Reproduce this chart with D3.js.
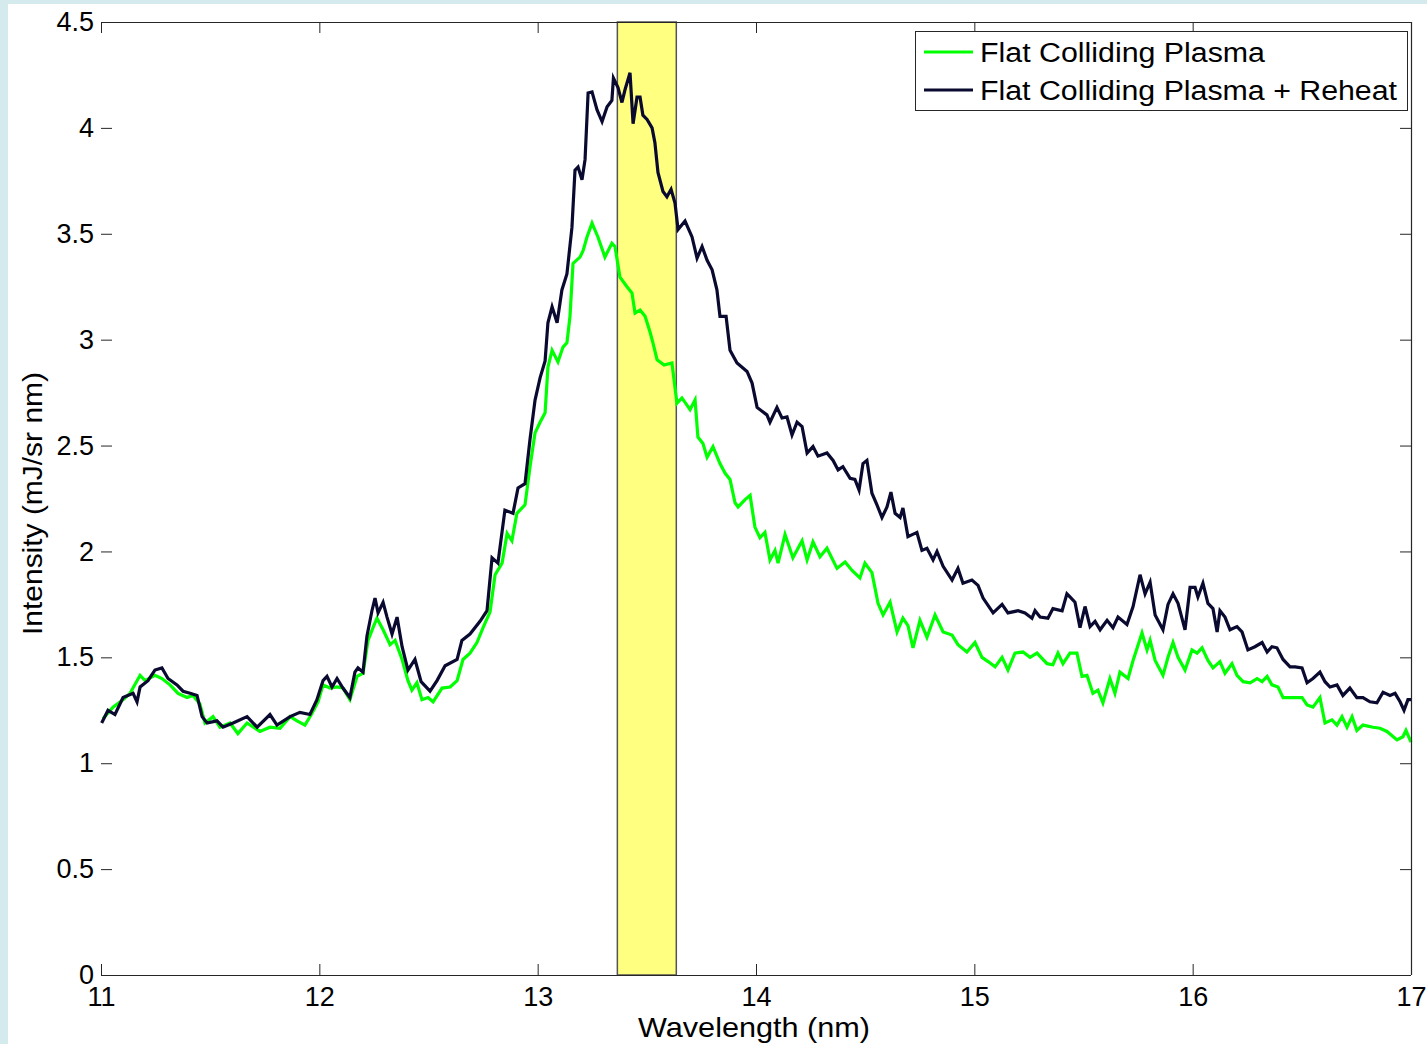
<!DOCTYPE html>
<html>
<head>
<meta charset="utf-8">
<script src="https://cdn.jsdelivr.net/npm/d3@7"></script>
<style>
  html, body { margin: 0; padding: 0; background: #ffffff; }
  svg { display: block; }
  text { font-family: "Liberation Sans", Arial, sans-serif; fill: #000; }
</style>
</head>
<body>
<script>
// ---------------- DATA ----------------
const xTicks = [11, 12, 13, 14, 15, 16, 17];
const yTicks = [0, 0.5, 1, 1.5, 2, 2.5, 3, 3.5, 4, 4.5];
const seriesNames = ["Flat Colliding Plasma", "Flat Colliding Plasma + Reheat"];
const band = [13.365, 13.635];

const flatWl = [11.009,11.055,11.101,11.133,11.179,11.202,11.247,11.279,11.316,11.353,11.394,11.421,11.453,11.476,11.513,11.545,11.591,11.627,11.669,11.728,11.774,11.820,11.866,11.898,11.934,11.966,11.994,12.017,12.049,12.081,12.108,12.140,12.173,12.200,12.223,12.246,12.264,12.292,12.324,12.347,12.379,12.406,12.424,12.447,12.470,12.498,12.521,12.562,12.599,12.631,12.658,12.690,12.722,12.750,12.782,12.805,12.837,12.860,12.882,12.905,12.942,12.965,12.988,13.011,13.034,13.047,13.066,13.093,13.116,13.134,13.148,13.162,13.194,13.208,13.226,13.249,13.276,13.308,13.340,13.354,13.377,13.409,13.432,13.446,13.469,13.492,13.515,13.528,13.547,13.579,13.615,13.638,13.661,13.698,13.721,13.734,13.757,13.776,13.803,13.835,13.858,13.881,13.904,13.918,13.950,13.973,13.995,14.018,14.041,14.064,14.087,14.101,14.133,14.169,14.211,14.234,14.261,14.293,14.325,14.371,14.408,14.440,14.476,14.499,14.531,14.559,14.582,14.614,14.646,14.673,14.696,14.719,14.751,14.783,14.820,14.857,14.898,14.925,14.966,15.003,15.035,15.063,15.095,15.127,15.154,15.186,15.223,15.255,15.287,15.333,15.360,15.383,15.406,15.438,15.470,15.493,15.516,15.543,15.566,15.589,15.621,15.644,15.667,15.704,15.727,15.768,15.791,15.805,15.828,15.864,15.887,15.910,15.933,15.965,15.997,16.020,16.043,16.070,16.093,16.125,16.148,16.180,16.203,16.231,16.263,16.295,16.318,16.341,16.363,16.391,16.414,16.446,16.478,16.501,16.524,16.551,16.583,16.606,16.638,16.661,16.684,16.707,16.730,16.752,16.780,16.826,16.858,16.890,16.936,16.963,16.977,17.000];
const flatVal = [1.21,1.265,1.30,1.33,1.415,1.39,1.415,1.40,1.37,1.33,1.31,1.32,1.28,1.19,1.22,1.17,1.19,1.14,1.19,1.15,1.17,1.165,1.22,1.20,1.18,1.235,1.29,1.37,1.355,1.36,1.355,1.30,1.41,1.425,1.58,1.64,1.685,1.63,1.56,1.58,1.49,1.39,1.345,1.38,1.30,1.31,1.29,1.355,1.36,1.39,1.49,1.52,1.57,1.64,1.715,1.89,1.945,2.085,2.05,2.18,2.22,2.40,2.56,2.61,2.655,2.87,2.95,2.895,2.965,2.985,3.11,3.36,3.39,3.42,3.485,3.55,3.485,3.39,3.455,3.44,3.295,3.25,3.22,3.125,3.14,3.11,3.035,2.985,2.905,2.88,2.89,2.70,2.725,2.67,2.715,2.54,2.51,2.445,2.495,2.415,2.37,2.34,2.23,2.21,2.245,2.265,2.115,2.065,2.09,1.96,2.005,1.945,2.08,1.97,2.05,1.96,2.045,1.975,2.015,1.92,1.95,1.91,1.875,1.945,1.90,1.755,1.70,1.76,1.62,1.685,1.65,1.545,1.675,1.595,1.70,1.62,1.605,1.56,1.525,1.57,1.50,1.48,1.455,1.50,1.44,1.52,1.525,1.50,1.52,1.47,1.465,1.52,1.47,1.52,1.52,1.41,1.415,1.33,1.345,1.285,1.40,1.33,1.43,1.40,1.485,1.615,1.535,1.58,1.485,1.415,1.50,1.57,1.50,1.44,1.535,1.52,1.545,1.485,1.45,1.48,1.425,1.47,1.415,1.385,1.38,1.40,1.385,1.41,1.37,1.36,1.31,1.31,1.31,1.31,1.275,1.265,1.31,1.19,1.205,1.18,1.22,1.17,1.22,1.155,1.18,1.17,1.165,1.15,1.11,1.125,1.155,1.10];

const reheatWl = [11.003,11.032,11.064,11.101,11.147,11.165,11.179,11.215,11.247,11.279,11.307,11.348,11.376,11.408,11.440,11.463,11.486,11.531,11.559,11.605,11.669,11.715,11.774,11.806,11.866,11.911,11.957,11.989,12.017,12.035,12.058,12.081,12.108,12.140,12.163,12.177,12.200,12.218,12.241,12.255,12.269,12.292,12.310,12.333,12.356,12.379,12.406,12.438,12.466,12.507,12.539,12.576,12.631,12.653,12.690,12.736,12.768,12.791,12.818,12.850,12.887,12.910,12.942,12.965,12.988,13.011,13.034,13.047,13.066,13.089,13.111,13.134,13.157,13.171,13.185,13.203,13.217,13.231,13.249,13.272,13.295,13.318,13.340,13.347,13.368,13.386,13.400,13.423,13.437,13.455,13.469,13.482,13.501,13.524,13.537,13.551,13.574,13.592,13.611,13.629,13.643,13.675,13.707,13.730,13.753,13.776,13.799,13.821,13.835,13.863,13.881,13.913,13.959,13.982,14.005,14.050,14.064,14.096,14.119,14.142,14.165,14.188,14.211,14.234,14.261,14.284,14.325,14.353,14.376,14.398,14.431,14.453,14.472,14.490,14.508,14.531,14.554,14.577,14.600,14.618,14.637,14.660,14.673,14.696,14.737,14.760,14.783,14.811,14.829,14.857,14.898,14.925,14.948,14.989,15.017,15.040,15.086,15.127,15.154,15.200,15.232,15.264,15.278,15.301,15.337,15.360,15.402,15.424,15.438,15.461,15.484,15.507,15.530,15.553,15.576,15.608,15.635,15.658,15.699,15.727,15.759,15.782,15.805,15.828,15.864,15.887,15.910,15.933,15.965,15.988,16.011,16.024,16.047,16.070,16.093,16.112,16.125,16.148,16.171,16.203,16.226,16.253,16.285,16.318,16.341,16.363,16.386,16.414,16.446,16.469,16.501,16.524,16.551,16.583,16.606,16.629,16.661,16.688,16.720,16.752,16.780,16.812,16.844,16.872,16.904,16.927,16.950,16.968,16.986,17.000];
const reheatVal = [1.19,1.25,1.23,1.31,1.33,1.29,1.36,1.39,1.44,1.45,1.40,1.37,1.34,1.33,1.32,1.22,1.19,1.20,1.17,1.19,1.22,1.17,1.23,1.18,1.22,1.24,1.23,1.30,1.39,1.41,1.36,1.40,1.355,1.31,1.43,1.45,1.43,1.60,1.72,1.78,1.71,1.76,1.69,1.61,1.69,1.55,1.44,1.49,1.385,1.34,1.39,1.46,1.49,1.58,1.61,1.67,1.72,1.97,1.945,2.195,2.18,2.30,2.32,2.53,2.715,2.82,2.90,3.08,3.155,3.08,3.235,3.31,3.53,3.80,3.815,3.755,3.85,4.165,4.17,4.085,4.03,4.10,4.13,4.235,4.19,4.12,4.18,4.26,4.02,4.145,4.145,4.06,4.04,4.00,3.93,3.79,3.70,3.675,3.71,3.645,3.52,3.56,3.485,3.385,3.44,3.375,3.33,3.235,3.11,3.11,2.95,2.89,2.85,2.795,2.68,2.645,2.61,2.68,2.63,2.635,2.55,2.61,2.59,2.465,2.495,2.45,2.465,2.43,2.385,2.40,2.345,2.34,2.29,2.415,2.43,2.275,2.22,2.16,2.21,2.28,2.18,2.16,2.205,2.07,2.09,2.005,2.015,1.96,2.00,1.93,1.865,1.92,1.85,1.865,1.84,1.78,1.71,1.75,1.71,1.72,1.71,1.685,1.72,1.69,1.685,1.73,1.72,1.80,1.785,1.76,1.64,1.74,1.645,1.67,1.63,1.675,1.64,1.69,1.655,1.74,1.89,1.80,1.855,1.70,1.63,1.75,1.80,1.755,1.63,1.83,1.83,1.785,1.85,1.755,1.73,1.62,1.72,1.69,1.63,1.645,1.62,1.535,1.55,1.57,1.525,1.55,1.545,1.49,1.455,1.455,1.45,1.38,1.40,1.43,1.385,1.36,1.37,1.32,1.355,1.31,1.31,1.29,1.285,1.335,1.32,1.33,1.29,1.25,1.30,1.30];

const seriesColors = ["#00ff00", "#0a0a30"];

// ---------------- CHART ----------------
const W = 1427, H = 1044;
const svg = d3.select("body").append("svg").attr("width", W).attr("height", H);

// light-blue frame strips
svg.append("rect").attr("x", 0).attr("y", 0).attr("width", W).attr("height", 4).attr("fill", "#d4eaec");
svg.append("rect").attr("x", 0).attr("y", 0).attr("width", 8).attr("height", H).attr("fill", "#d4eaec");

const L = 101, R = 1411, T = 22, B = 975;
const x = d3.scaleLinear().domain([11, 17]).range([L, R]);
const y = d3.scaleLinear().domain([0, 4.5]).range([B, T]);

// highlighted band
svg.append("rect")
  .attr("x", x(band[0])).attr("y", T)
  .attr("width", x(band[1]) - x(band[0])).attr("height", B - T)
  .attr("fill", "#ffff80").attr("stroke", "#555").attr("stroke-width", 1.5);

// lines
const line = d3.line().x(d => x(d[0])).y(d => y(d[1]));
const flat = flatWl.map((w, i) => [w, flatVal[i]]);
const reheat = reheatWl.map((w, i) => [w, reheatVal[i]]);
[flat, reheat].forEach((data, i) => {
  svg.append("path").datum(data)
    .attr("d", line)
    .attr("fill", "none")
    .attr("stroke", seriesColors[i])
    .attr("stroke-width", 3.2)
    .attr("stroke-linejoin", "miter");
});

// axes (ticks inside)
const axisColor = "#262626";
const tickLen = 11;
const gB = svg.append("g").attr("transform", `translate(0,${B})`)
  .call(d3.axisBottom(x).tickValues(xTicks).tickSize(-tickLen).tickPadding(12).tickFormat(d3.format("d")));
const gT = svg.append("g").attr("transform", `translate(0,${T})`)
  .call(d3.axisTop(x).tickValues(xTicks).tickSize(-tickLen).tickFormat(""));
const gL = svg.append("g").attr("transform", `translate(${L},0)`)
  .call(d3.axisLeft(y).tickValues(yTicks).tickSize(-tickLen).tickPadding(7).tickFormat(d => d3.format("")(d)));
const gR = svg.append("g").attr("transform", `translate(${R},0)`)
  .call(d3.axisRight(y).tickValues(yTicks).tickSize(-tickLen).tickFormat(""));

[gB, gT, gL, gR].forEach(g => {
  g.selectAll("line").attr("stroke", axisColor).attr("stroke-width", 1);
  g.selectAll(".domain").attr("stroke", axisColor).attr("stroke-width", 1.2);
  g.selectAll("text").style("font-size", "27px").attr("fill", "#000");
});
gL.select(".domain").remove();
gB.select(".domain").attr("d", `M${L},0.5H${R}`);
gT.select(".domain").attr("d", `M${L},0.5H${R}`);
gR.select(".domain").attr("d", `M0.5,${T}V${B}`);

// axis labels
svg.append("text")
  .attr("x", 754).attr("y", 1037)
  .attr("text-anchor", "middle")
  .attr("textLength", 232).attr("lengthAdjust", "spacingAndGlyphs")
  .style("font-size", "28px")
  .text("Wavelength (nm)");
svg.append("text")
  .attr("transform", "translate(42,503.5) rotate(-90)")
  .attr("text-anchor", "middle")
  .attr("textLength", 263).attr("lengthAdjust", "spacingAndGlyphs")
  .style("font-size", "28px")
  .text("Intensity (mJ/sr nm)");

// legend
const lg = svg.append("g");
lg.append("rect").attr("x", 915.5).attr("y", 31.5).attr("width", 492).attr("height", 79)
  .attr("fill", "#fff").attr("stroke", axisColor).attr("stroke-width", 1);
const legendY = [52, 90];
const legendLen = [285, 417];
seriesNames.forEach((name, i) => {
  lg.append("line").attr("x1", 924).attr("x2", 973).attr("y1", legendY[i]).attr("y2", legendY[i])
    .attr("stroke", seriesColors[i]).attr("stroke-width", 3);
  lg.append("text").attr("x", 980).attr("y", legendY[i] + 10)
    .attr("textLength", legendLen[i]).attr("lengthAdjust", "spacingAndGlyphs")
    .style("font-size", "27px")
    .text(name);
});
</script>
</body>
</html>
